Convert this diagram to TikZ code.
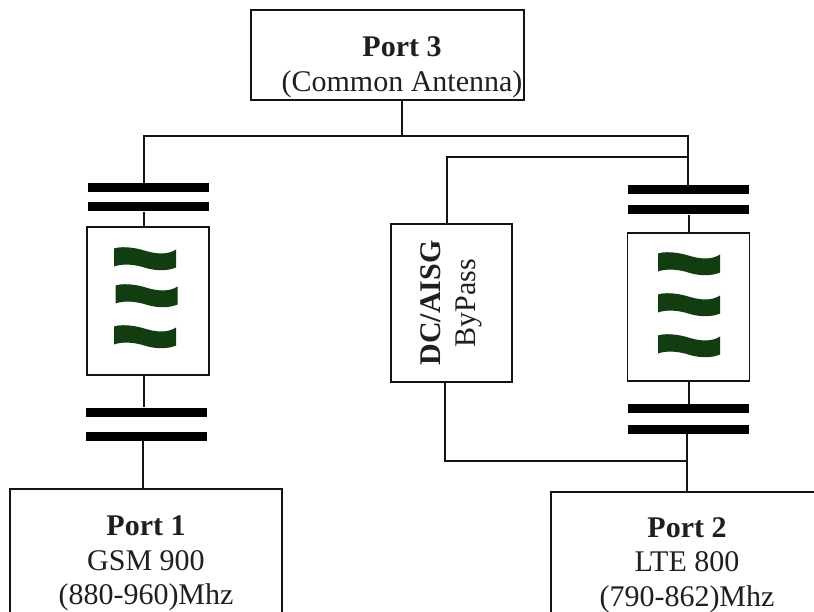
\documentclass[tikz,border=0pt]{standalone}
\usepackage{fontspec}
\setmainfont{Liberation Serif}
\definecolor{wavegreen}{HTML}{113D11}
\definecolor{inkline}{HTML}{141414}
\tikzset{
  x=1pt,y=-1pt,
  boxed/.style={draw=inkline,line width=1.8pt,fill=white,inner sep=0pt,align=center,text=black!88,font=\fontsize{30}{34.5}\selectfont},
  plate/.style={fill=black,draw=none,inner sep=0pt,minimum width=121pt,minimum height=9pt},
  wire/.style={draw=inkline,line width=1.8pt},
  filterbox/.style={draw=inkline,line width=1.8pt,fill=white,inner sep=0pt,minimum width=122pt,minimum height=148pt},
  wavy/.pic={\fill[wavegreen] (0,0.5) .. controls (6,-1.5) and (18,-1.5) .. (32,3) .. controls (42,6) and (54,7) .. (62,1.5) -- (62,19.5) .. controls (54,23) and (42,23) .. (32,20) .. controls (20,16) and (8,15.5) .. (0,18.5) -- cycle;}
}
\begin{document}
\begin{tikzpicture}
\useasboundingbox[fill=white] (0,0) rectangle (814,612);
% boxes
\node[boxed,minimum width=273pt,minimum height=90pt] (port3) at (387.5,55) {\rule{0pt}{44pt}\hspace*{29pt}\textbf{Port 3}\\\hspace*{29pt}(Common Antenna)};
\node[boxed,minimum width=272pt,minimum height=149pt] (port1) at (146,563.5) {\textbf{Port 1}\\GSM 900\\(880-960)Mhz};
\node[boxed,minimum width=272pt,minimum height=146pt] (port2) at (687,565) {\textbf{Port 2}\\LTE 800\\(790-862)Mhz};
\node[filterbox] (filterL) at (148,301) {};
\node[filterbox] (filterR) at (688.5,307) {};
\node[boxed,rotate=90,minimum width=158pt,minimum height=121pt] (bypass) at (451.5,303) {\textbf{DC/AISG}\\ByPass};
% capacitor plates
\node[plate] (pL1) at (148.5,187.5) {};
\node[plate] (pL2) at (148.5,207) {};
\node[plate] (pL3) at (146,412) {};
\node[plate] (pL4) at (146,436.5) {};
\node[plate] (pR1) at (688.5,189.5) {};
\node[plate] (pR2) at (688.5,210) {};
\node[plate] (pR3) at (688.5,408.5) {};
\node[plate] (pR4) at (688.5,429.5) {};
% junctions
\coordinate (j0) at (402,136);
\coordinate (jL) at (144,136);
\coordinate (jR) at (688,136);
\coordinate (jL2) at (143,441);
\coordinate (jR2) at (689,300);
\coordinate (jB1) at (688,157);
\coordinate (jB2) at (447,157);
\coordinate (jB3) at (445,461);
\coordinate (jB4) at (687,461);
% connectors
\draw[wire] (port3.south -| j0) -- (j0);
\draw[wire] (pL1.north -| jL) -- (jL) -- (jR) -- (pR1.north -| jR);
\draw[wire] (pL2.south -| jL) -- (filterL.north -| jL);
\draw[wire] (filterL.south -| jL) -- (pL3.north -| jL);
\draw[wire] (pL4.south -| jL2) -- (port1.north -| jL2);
\draw[wire] (jB1) -- (jB2) -- (bypass.east -| jB2);
\draw[wire] (bypass.west -| jB3) -- (jB3) -- (jB4);
\draw[wire] (pR2.south -| jR2) -- (filterR.north -| jR2);
\draw[wire] (filterR.south -| jR2) -- (pR3.north -| jR2);
\draw[wire] (pR4.south -| jB4) -- (port2.north -| jB4);
% waves
\pic at (114,248) {wavy};
\pic at (115.5,285) {wavy};
\pic at (114,326) {wavy};
\pic at (658,253) {wavy};
\pic at (658,294) {wavy};
\pic at (658,335) {wavy};
\end{tikzpicture}
\end{document}
